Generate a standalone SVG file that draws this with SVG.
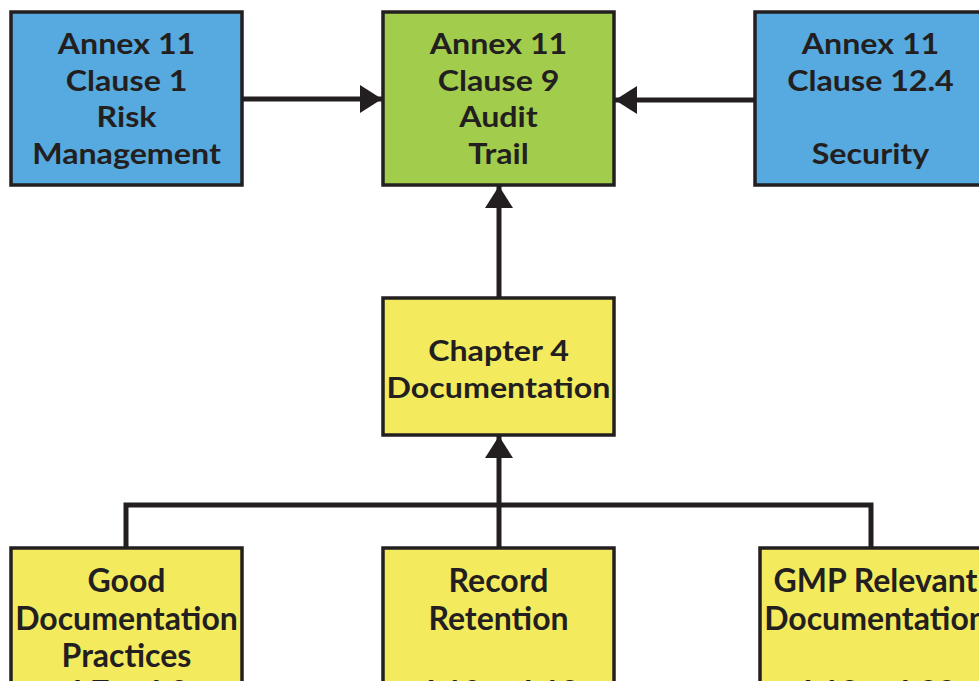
<svg xmlns="http://www.w3.org/2000/svg" width="979" height="681" viewBox="0 0 979 681">
<style>
.box{stroke:#231f20;stroke-width:3.5}
.blue{fill:#56aadf}
.green{fill:#a2cd4c}
.yellow{fill:#f3eb5d}
.t{font-family:Lato,"Open Sans","Liberation Sans",sans-serif;font-weight:bold;font-size:29px;fill:#231f20;text-anchor:middle}
.tc{font-family:Lato,"Open Sans","Liberation Sans",sans-serif;font-weight:bold;font-size:32px;fill:#231f20;text-anchor:middle}
.ln{stroke:#231f20;stroke-width:5;fill:none}
</style>
<defs>
<marker id="ah" viewBox="0 0 22 28" refX="22" refY="14" markerWidth="22" markerHeight="28" markerUnits="userSpaceOnUse" orient="auto">
<path d="M0,0 L22,14 L0,28 Z" fill="#231f20"/>
</marker>
</defs>
<rect width="979" height="681" fill="#ffffff"/>
<g id="connectors">
<line class="ln" x1="243" y1="99" x2="382" y2="99" marker-end="url(#ah)"/>
<line class="ln" x1="754" y1="100" x2="615" y2="100" marker-end="url(#ah)"/>
<line class="ln" x1="499" y1="297" x2="499" y2="186" marker-end="url(#ah)"/>
<line class="ln" x1="499" y1="547" x2="499" y2="436" marker-end="url(#ah)"/>
<polyline class="ln" points="126,547 126,505 871,505 871,547"/>
</g>
<g id="risk">
<rect class="box blue" x="11" y="12" width="231" height="173"/>
<g transform="translate(126.5 0) scale(1.11 1)">
<text class="t" x="0" y="54">Annex 11</text>
<text class="t" x="0" y="91">Clause 1</text>
<text class="t" x="0" y="127">Risk</text>
<text class="t" x="0" y="164">Management</text>
</g>
</g>
<g id="audit">
<rect class="box green" x="383" y="12" width="231" height="173"/>
<g transform="translate(498.5 0) scale(1.11 1)">
<text class="t" x="0" y="54">Annex 11</text>
<text class="t" x="0" y="91">Clause 9</text>
<text class="t" x="0" y="127">Audit</text>
<text class="t" x="0" y="164">Trail</text>
</g>
</g>
<g id="security">
<rect class="box blue" x="755" y="12" width="231" height="173"/>
<g transform="translate(870.5 0) scale(1.11 1)">
<text class="t" x="0" y="54">Annex 11</text>
<text class="t" x="0" y="91">Clause 12.4</text>
<text class="t" x="0" y="164">Security</text>
</g>
</g>
<g id="chapter4">
<rect class="box yellow" x="383" y="298" width="231" height="137"/>
<g transform="translate(498.5 0) scale(1.11 1)">
<text class="t" x="0" y="361">Chapter 4</text>
<text class="t" x="0" y="398">Documentation</text>
</g>
</g>
<g id="gdp">
<rect class="box yellow" x="11" y="548" width="231" height="160"/>
<text class="tc" x="126.5" y="592">Good</text>
<text class="tc" x="126.5" y="630">Documentation</text>
<text class="tc" x="126.5" y="667">Practices</text>
<text class="tc" x="126.5" y="704">4.7 – 4.9</text>
</g>
<g id="retention">
<rect class="box yellow" x="383" y="548" width="231" height="160"/>
<text class="tc" x="498.5" y="592">Record</text>
<text class="tc" x="498.5" y="630">Retention</text>
<text class="tc" x="498.5" y="704">4.10 – 4.12</text>
</g>
<g id="gmp">
<rect class="box yellow" x="760" y="548" width="231" height="160"/>
<text class="tc" x="875.5" y="592">GMP Relevant</text>
<text class="tc" x="875.5" y="630">Documentation</text>
<text class="tc" x="875.5" y="704">4.13 – 4.32</text>
</g>
</svg>
